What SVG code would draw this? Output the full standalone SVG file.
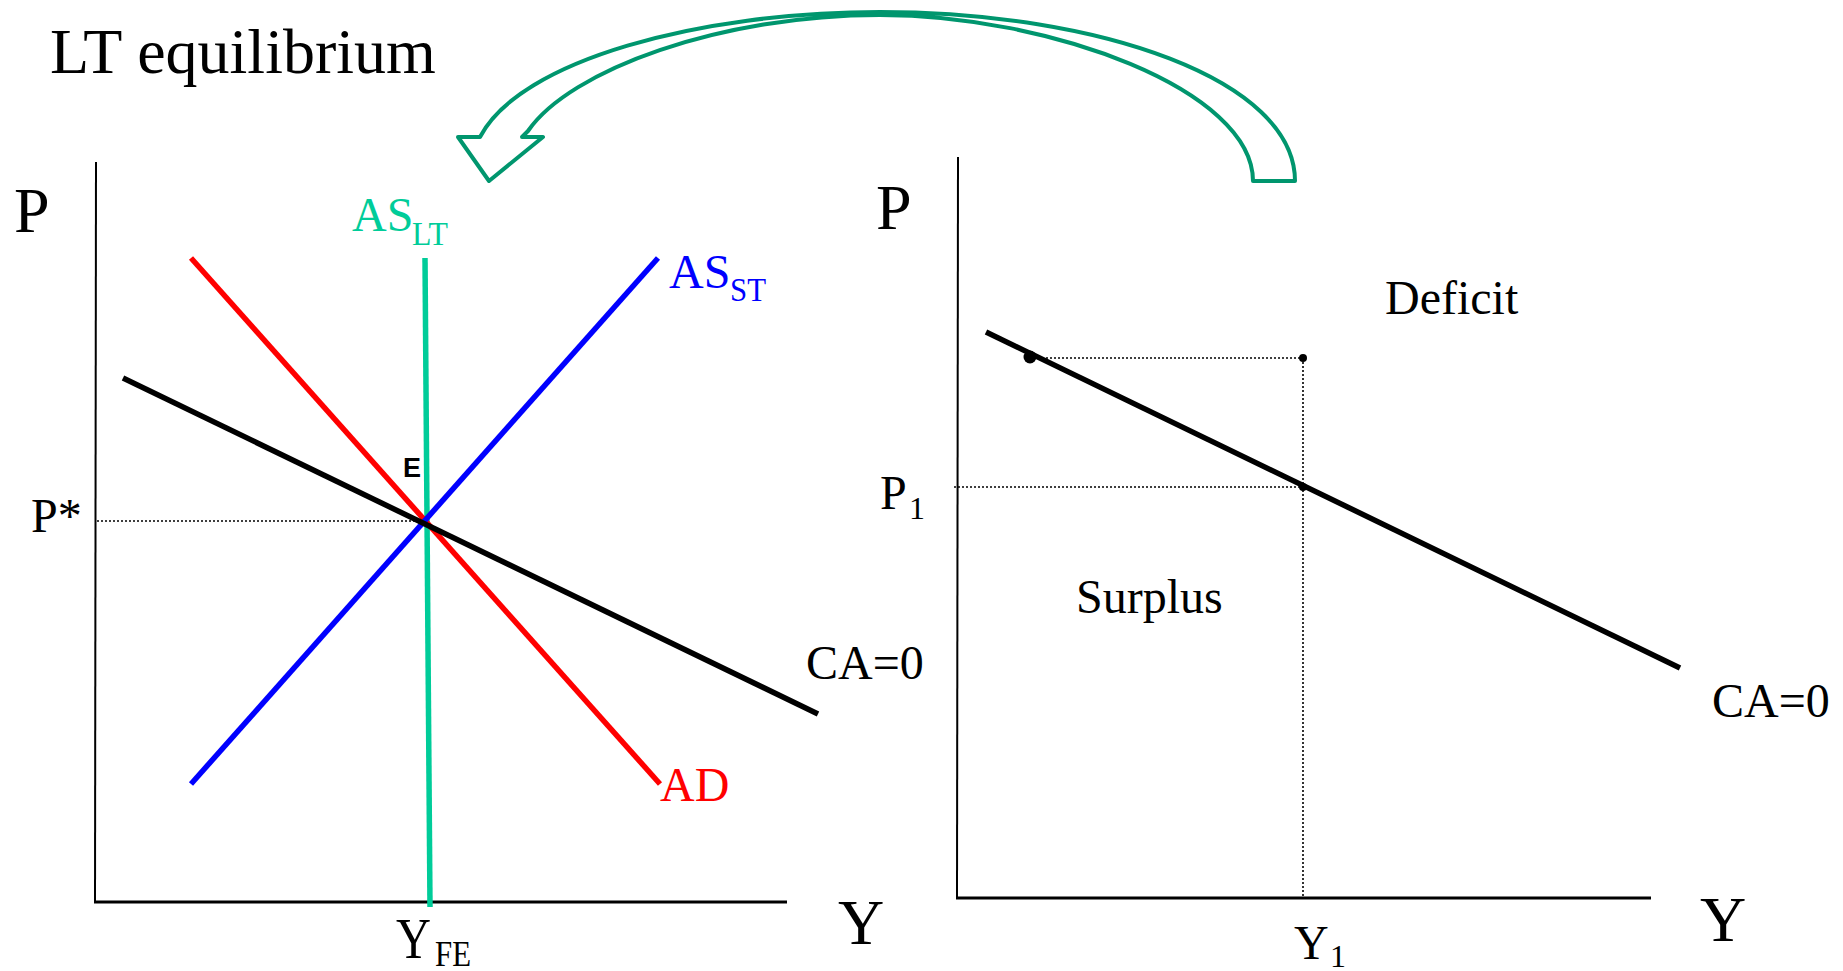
<svg xmlns="http://www.w3.org/2000/svg" width="1843" height="971" viewBox="0 0 1843 971">
<style>
text{font-family:"Liberation Serif","Times New Roman",serif;fill:#000}
.big{font-size:64px}
.med{font-size:48px}
.sub{font-size:34px}
.axis{stroke:#000;stroke-width:2;fill:none}
.xaxis{stroke:#000;stroke-width:3;fill:none}
.dot{stroke:#000;stroke-width:1.6;stroke-dasharray:2 2;fill:none}
.curve{stroke-width:5.5;fill:none}
</style>
<rect width="1843" height="971" fill="#fff"/>
<g id="title"><text class="big" x="50" y="73">LT equilibrium</text></g>

<g id="connectors">
<path id="arrow" d="M1253,181 L1295,181 C1295,80 1100,12 880,12 C700,12 520,60 480,137 L458,137 L489,181 L543,137 L522,137 L528,131 C570,70 720,15 880,15 C1050,15 1253,90 1253,181 Z" fill="#fff" stroke="#00966E" stroke-width="4" stroke-linejoin="round"/>
</g>

<g id="left-chart">
<line class="axis" x1="96" y1="162" x2="95" y2="902"/>
<line class="xaxis" x1="94" y1="902" x2="787" y2="902"/>
<line class="dot" x1="97" y1="521" x2="425" y2="521"/>
<line class="curve" stroke="#00CC99" x1="425" y1="258" x2="430" y2="907"/>
<line class="curve" stroke="#FF0000" x1="191" y1="258" x2="660" y2="784"/>
<line class="curve" stroke="#0000FF" x1="658" y1="258" x2="191" y2="784"/>
<line class="curve" stroke="#000" stroke-width="6.5" x1="123" y1="378" x2="818" y2="714"/>
<text class="big" x="14" y="232">P</text>
<text class="med" x="31" y="532">P*</text>
<text x="403" y="477" style="font-family:'Liberation Sans',Arial,sans-serif;font-weight:bold;font-size:27px">E</text>
<text class="med" x="352" y="231" style="fill:#00CC99">AS</text>
<text class="sub" x="412" y="245" style="fill:#00CC99" textLength="36" lengthAdjust="spacingAndGlyphs">LT</text>
<text class="med" x="669" y="288" style="fill:#0000FF">AS</text>
<text class="sub" x="730" y="301" style="fill:#0000FF" textLength="36" lengthAdjust="spacingAndGlyphs">ST</text>
<text class="med" x="660" y="801" style="fill:#FF0000">AD</text>
<text class="med" x="806" y="679">CA=0</text>
<text x="396" y="958" style="font-size:56px" textLength="35" lengthAdjust="spacingAndGlyphs">Y</text>
<text x="435" y="966" style="font-size:36px" textLength="36" lengthAdjust="spacingAndGlyphs">FE</text>
<text class="big" x="838" y="944">Y</text>
</g>

<g id="right-chart">
<line class="axis" x1="958" y1="157" x2="957" y2="898"/>
<line class="xaxis" x1="956" y1="898" x2="1651" y2="898"/>
<line class="dot" x1="1030" y1="358" x2="1303" y2="358"/>
<line class="dot" x1="954" y1="487" x2="1303" y2="487"/>
<line class="dot" x1="1303" y1="358" x2="1303" y2="897"/>
<line class="curve" stroke="#000" stroke-width="6.5" x1="986" y1="332" x2="1680" y2="668"/>
<circle cx="1030" cy="357" r="6.5" fill="#000"/>
<circle cx="1303" cy="358" r="4" fill="#000"/>
<circle cx="1303" cy="487" r="4" fill="#000"/>
<text class="big" x="876" y="229">P</text>
<text class="med" x="880" y="509">P</text>
<text x="909" y="519" style="font-size:32px">1</text>
<text class="med" x="1385" y="314">Deficit</text>
<text class="med" x="1076" y="613">Surplus</text>
<text class="med" x="1712" y="717">CA=0</text>
<text class="med" x="1294" y="959">Y</text>
<text x="1330" y="967" style="font-size:32px">1</text>
<text class="big" x="1700" y="941">Y</text>
</g>
</svg>
